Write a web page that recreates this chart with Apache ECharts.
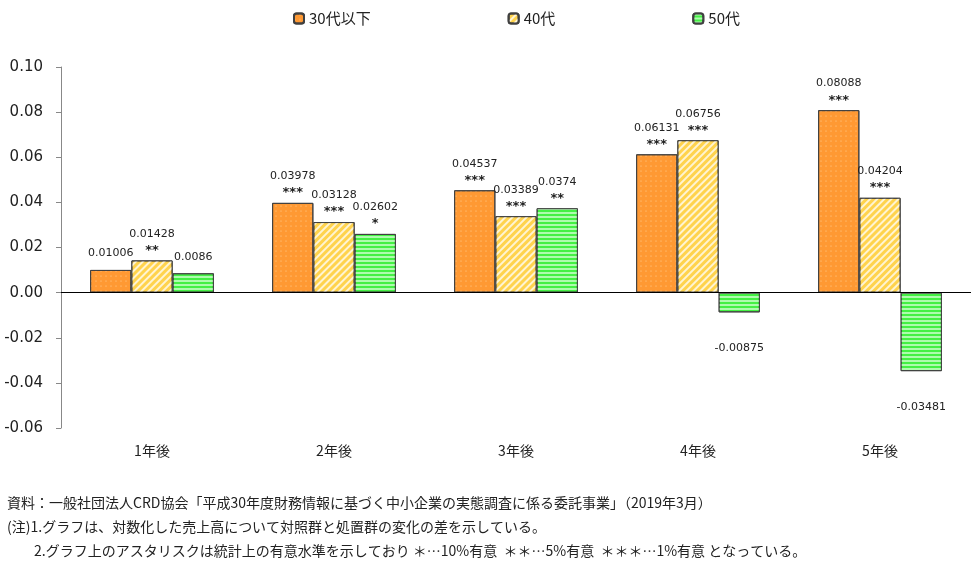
<!DOCTYPE html>
<html><head><meta charset="utf-8">
<script src="https://cdn.jsdelivr.net/npm/echarts@6/dist/echarts.min.js"></script>
<style>html,body{margin:0;padding:0;background:#fff}#c{width:971px;height:566px}</style>
</head><body><div id="c"></div>
<script>
const categories = ['1年後','2年後','3年後','4年後','5年後'];
const seriesNames = ['30代以下','40代','50代'];
const s30 = [0.01006, 0.03978, 0.04537, 0.06131, 0.08088];
const s40 = [0.01428, 0.03128, 0.03389, 0.06756, 0.04204];
const s50 = [0.0086, 0.02602, 0.0374, -0.00875, -0.03481];
const sig30 = ['', '***', '***', '***', '***'];
const sig40 = ['**', '***', '***', '***', '***'];
const sig50 = ['', '*', '**', '', ''];
const yTicks = {min: -0.06, max: 0.10, interval: 0.02};
const notes = [
  '資料：一般社団法人CRD協会「平成30年度財務情報に基づく中小企業の実態調査に係る委託事業」（2019年3月）',
  '(注)1.グラフは、対数化した売上高について対照群と処置群の変化の差を示している。',
  '2.グラフ上のアスタリスクは統計上の有意水準を示しており ＊…10%有意  ＊＊…5%有意  ＊＊＊…1%有意 となっている。'
];
const noteLeft = [7, 7, 34];

const numFont = '"DejaVu Sans", Verdana, sans-serif';
const jpFont = '"Noto Sans CJK JP", sans-serif';

function buildData(vals, sigs) {
  return vals.map((v, i) => {
    const txt = sigs[i] ? '{v|' + v + '}\n{s|' + sigs[i] + '}' : '{v|' + v + '}';
    if (v < 0) {
      return {value: v, label: {position: 'bottom', distance: 26, formatter: '{v|' + v + '}'}};
    }
    return {value: v, label: {position: 'top', distance: sigs[i] ? 3 : 7, formatter: txt}};
  });
}

const richLabel = {
  v: {fontFamily: numFont, fontSize: 11, color: '#222', lineHeight: 19},
  s: {fontFamily: numFont, fontSize: 13, fontWeight: 'bold', color: '#222', lineHeight: 14}
};

const styles = [
  {color: '#FF9933', decal: {symbol: 'circle', symbolSize: 0.5, dashArrayX: [2, 3], dashArrayY: [2, 3], color: 'rgba(255,225,180,0.95)'}},
  {color: '#FFD34D', decal: {symbol: 'rect', symbolSize: 1, dashArrayX: [1, 0], dashArrayY: [2, 3], rotation: -Math.PI / 4, color: 'rgba(255,255,255,0.75)'}},
  {color: '#44F044', decal: {symbol: 'rect', symbolSize: 1, dashArrayX: [1, 0], dashArrayY: [2, 2], rotation: 0, color: 'rgba(200,255,200,0.8)'}}
];

const allVals = [s30, s40, s50];
const allSigs = [sig30, sig40, sig50];

const series = seriesNames.map((name, k) => ({
  name: name,
  type: 'bar',
  barGap: '0%',
  barCategoryGap: '32%',
  itemStyle: {color: styles[k].color, borderColor: '#404040', borderWidth: 1, decal: styles[k].decal},
  label: {show: true, rich: richLabel},
  data: buildData(allVals[k], allSigs[k]),
  markLine: k === 0 ? {
    silent: true, symbol: 'none', label: {show: false},
    lineStyle: {color: '#000', width: 1, type: 'solid'},
    data: [{yAxis: 0}]
  } : undefined
}));

const chart = echarts.init(document.getElementById('c'));
chart.setOption({
  animation: false,
  backgroundColor: '#fff',
  legend: {
    top: 6, left: 288,
    itemWidth: 10, itemHeight: 10, itemGap: 137,
    textStyle: {fontFamily: jpFont, fontSize: 15, color: '#222'},
    data: seriesNames
  },
  grid: {left: 61, right: 0, top: 67, bottom: 138, containLabel: false},
  xAxis: {
    type: 'category', data: categories,
    axisLine: {show: false, onZero: false},
    axisTick: {show: false},
    axisLabel: {fontFamily: jpFont, fontSize: 14, color: '#222', margin: 16}
  },
  yAxis: {
    type: 'value', min: yTicks.min, max: yTicks.max, interval: yTicks.interval,
    axisLine: {show: true, lineStyle: {color: '#888'}},
    axisTick: {show: true, inside: false, length: 5, lineStyle: {color: '#888'}},
    splitLine: {show: false},
    axisLabel: {fontFamily: numFont, fontSize: 15, color: '#222', margin: 18, formatter: v => v.toFixed(2)}
  },
  series: series,
  graphic: notes.map((t, i) => ({
    type: 'text', left: noteLeft[i], top: 496 + i * 24,
    style: {text: t, font: '14px ' + jpFont, fill: '#222'}
  }))
});
</script></body></html>
